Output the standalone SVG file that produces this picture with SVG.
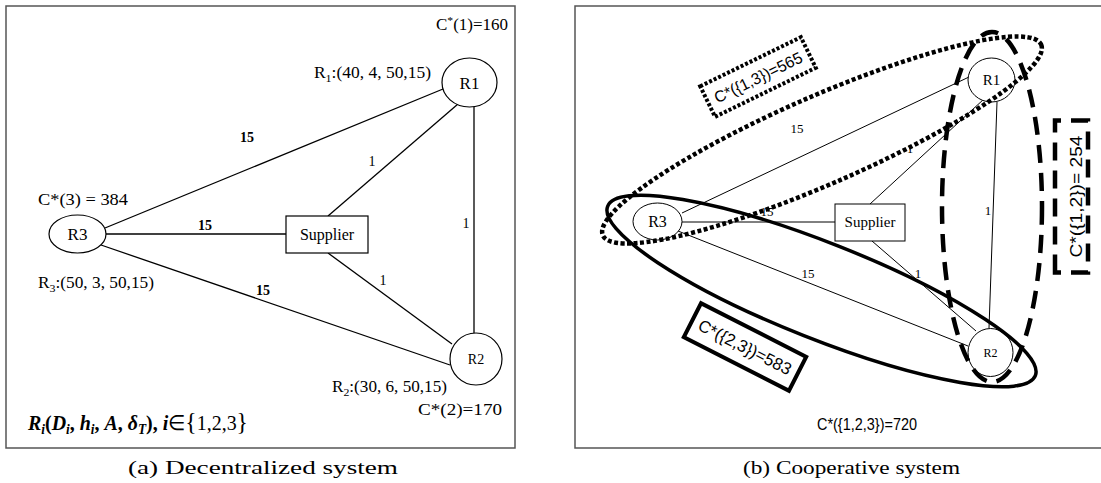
<svg xmlns="http://www.w3.org/2000/svg" width="1101" height="483" viewBox="0 0 1101 483">
<style>
.panel{fill:#fff;stroke:#555;stroke-width:1.5}
.ln{stroke:#000;stroke-width:1.3;fill:none}
.lnr{stroke:#000;stroke-width:1;fill:none}
.nd{fill:#fff;stroke:#000;stroke-width:1.2}
.ndr{fill:#fff;stroke:#000;stroke-width:1}
.t{font-family:"Liberation Serif",serif;fill:#000}
.s{font-family:"Liberation Sans",sans-serif;fill:#000}
.c{text-anchor:middle}
</style>
<rect width="1101" height="483" fill="#fff"/>
<rect class="panel" x="6" y="6" width="509" height="442"/>
<rect class="panel" x="575" y="6" width="535" height="442"/>

<!-- Left panel connectors -->
<g id="connectors-a">
<line class="ln" x1="105" y1="228" x2="443" y2="89"/>
<line class="ln" x1="458" y1="104" x2="328" y2="216"/>
<line class="ln" x1="474" y1="107" x2="474" y2="333"/>
<line class="ln" x1="105" y1="234" x2="286" y2="234"/>
<line class="ln" x1="101" y1="245" x2="450" y2="365"/>
<line class="ln" x1="328" y1="253" x2="452" y2="344"/>
<text class="t c" x="247" y="142" font-size="14" font-weight="bold">15</text>
<text class="t c" x="372" y="166" font-size="14">1</text>
<text class="t c" x="205" y="230" font-size="14" font-weight="bold">15</text>
<text class="t c" x="466" y="228" font-size="14">1</text>
<text class="t c" x="383" y="285" font-size="14">1</text>
<text class="t c" x="263" y="295" font-size="14" font-weight="bold">15</text>
</g>

<g id="a-R1">
<ellipse class="nd" cx="469.5" cy="82.5" rx="27.5" ry="24.5"/>
<text class="t c" x="469.5" y="89" font-size="17">R1</text>
</g>
<g id="a-R3">
<ellipse class="nd" cx="77.5" cy="234" rx="28.5" ry="19"/>
<text class="t c" x="77.5" y="240" font-size="17">R3</text>
</g>
<g id="a-R2">
<circle class="nd" cx="476" cy="359" r="26"/>
<text class="t c" x="476" y="364" font-size="14">R2</text>
</g>
<g id="a-Supplier">
<rect class="nd" x="286" y="216" width="82" height="37"/>
<text class="t c" x="327" y="240" font-size="16">Supplier</text>
</g>

<g id="a-labels">
<text class="t" x="436" y="30" font-size="16" textLength="72" lengthAdjust="spacingAndGlyphs">C<tspan dy="-6" font-size="11">*</tspan><tspan dy="6">(1)=160</tspan></text>
<text class="t" x="314" y="78" font-size="16" textLength="117" lengthAdjust="spacingAndGlyphs">R<tspan dy="4" font-size="11">1</tspan><tspan dy="-4">:(40, 4, 50,15)</tspan></text>
<text class="t" x="38" y="205" font-size="16" textLength="90" lengthAdjust="spacingAndGlyphs">C*(3) = 384</text>
<text class="t" x="38" y="288" font-size="16" textLength="116" lengthAdjust="spacingAndGlyphs">R<tspan dy="4" font-size="11">3</tspan><tspan dy="-4">:(50, 3, 50,15)</tspan></text>
<text class="t" x="332" y="392" font-size="16" textLength="115" lengthAdjust="spacingAndGlyphs">R<tspan dy="4" font-size="11">2</tspan><tspan dy="-4">:(30, 6, 50,15)</tspan></text>
<text class="t" x="418" y="415" font-size="16" textLength="84" lengthAdjust="spacingAndGlyphs">C*(2)=170</text>
<text class="t" x="28" y="430" font-size="21" font-weight="bold" textLength="220" lengthAdjust="spacingAndGlyphs"><tspan font-style="italic">R</tspan><tspan font-style="italic" font-size="14" dy="4">i</tspan><tspan dy="-4">(</tspan><tspan font-style="italic">D</tspan><tspan font-style="italic" font-size="14" dy="4">i</tspan><tspan dy="-4">, </tspan><tspan font-style="italic">h</tspan><tspan font-style="italic" font-size="14" dy="4">i</tspan><tspan dy="-4">, </tspan><tspan font-style="italic">A</tspan><tspan>, </tspan><tspan font-style="italic">δ</tspan><tspan font-style="italic" font-size="14" dy="4">T</tspan><tspan dy="-4">), </tspan><tspan font-style="italic">i</tspan><tspan font-weight="normal">∈</tspan><tspan font-weight="normal" font-size="25">{</tspan><tspan font-weight="normal">1,2,3</tspan><tspan font-weight="normal" font-size="25">}</tspan></text>
</g>

<!-- Right panel connectors -->
<g id="connectors-b">
<line class="lnr" x1="682" y1="213" x2="969" y2="77"/>
<line class="lnr" x1="984" y1="99" x2="870" y2="204"/>
<line class="lnr" x1="997" y1="102" x2="989" y2="328"/>
<line class="lnr" x1="682" y1="222" x2="835" y2="222"/>
<line class="lnr" x1="678" y1="231" x2="968" y2="346"/>
<line class="lnr" x1="872" y1="241" x2="976" y2="331"/>
<text class="t c" x="797" y="133" font-size="13">15</text>
<text class="t c" x="910" y="153" font-size="13">1</text>
<text class="t c" x="767" y="216" font-size="13">15</text>
<text class="t c" x="988" y="215" font-size="13">1</text>
<text class="t c" x="808" y="278" font-size="13">15</text>
<text class="t c" x="918" y="278" font-size="13">1</text>
</g>

<g id="b-R1">
<ellipse class="ndr" cx="991.5" cy="80" rx="23.5" ry="22"/>
<text class="t c" x="991.5" y="85" font-size="15">R1</text>
</g>
<g id="b-R3">
<ellipse class="ndr" cx="657.5" cy="221.5" rx="24.5" ry="18.5"/>
<text class="t c" x="657.5" y="227" font-size="16">R3</text>
</g>
<g id="b-R2">
<ellipse class="ndr" cx="990.5" cy="352.5" rx="22.5" ry="24"/>
<text class="t c" x="990.5" y="357" font-size="12" fill="#333">R2</text>
</g>
<g id="b-Supplier">
<rect class="ndr" x="835" y="204" width="70" height="37"/>
<text class="t c" x="870" y="227" font-size="15">Supplier</text>
</g>

<g id="coalitions">
<ellipse cx="822" cy="140" rx="239" ry="44" transform="rotate(-23.5 822 140)" fill="none" stroke="#000" stroke-width="4.5" stroke-dasharray="4 2.5"/>
<ellipse cx="821.5" cy="291" rx="230" ry="48" transform="rotate(21.6 821.5 291)" fill="none" stroke="#000" stroke-width="3.5"/>
<ellipse cx="992" cy="207" rx="50" ry="175" fill="none" stroke="#000" stroke-width="4.5" stroke-dasharray="18 10"/>
</g>

<g id="label-13" transform="translate(758 77) rotate(-26)">
<rect x="-56" y="-17" width="112" height="34" fill="#fff" stroke="#000" stroke-width="4" stroke-dasharray="3 2"/>
<text class="s c" x="0" y="6" font-size="16" textLength="96" lengthAdjust="spacingAndGlyphs">C*({1,3})=565</text>
</g>
<g id="label-12" transform="translate(1071.5 196.5) rotate(-90)">
<rect x="-76" y="-16.5" width="152" height="33" fill="#fff" stroke="#000" stroke-width="4.5" stroke-dasharray="18 10"/>
<text class="s c" x="0" y="10" font-size="16" textLength="122" lengthAdjust="spacingAndGlyphs">C*({1,2})= 254</text>
</g>
<g id="label-23" transform="translate(745 347) rotate(27)">
<rect x="-59" y="-19" width="118" height="38" fill="#fff" stroke="#000" stroke-width="4"/>
<text class="s c" x="0" y="6" font-size="17" textLength="102" lengthAdjust="spacingAndGlyphs">C*({2,3})=583</text>
</g>
<g id="label-123">
<text class="s" x="817" y="430" font-size="17" textLength="100" lengthAdjust="spacingAndGlyphs">C*({1,2,3})=720</text>
</g>

<g id="captions">
<text class="t" x="128" y="474" font-size="19" textLength="270" lengthAdjust="spacingAndGlyphs">(a) Decentralized system</text>
<text class="t" x="743" y="474" font-size="19" textLength="217" lengthAdjust="spacingAndGlyphs">(b) Cooperative system</text>
</g>
</svg>
